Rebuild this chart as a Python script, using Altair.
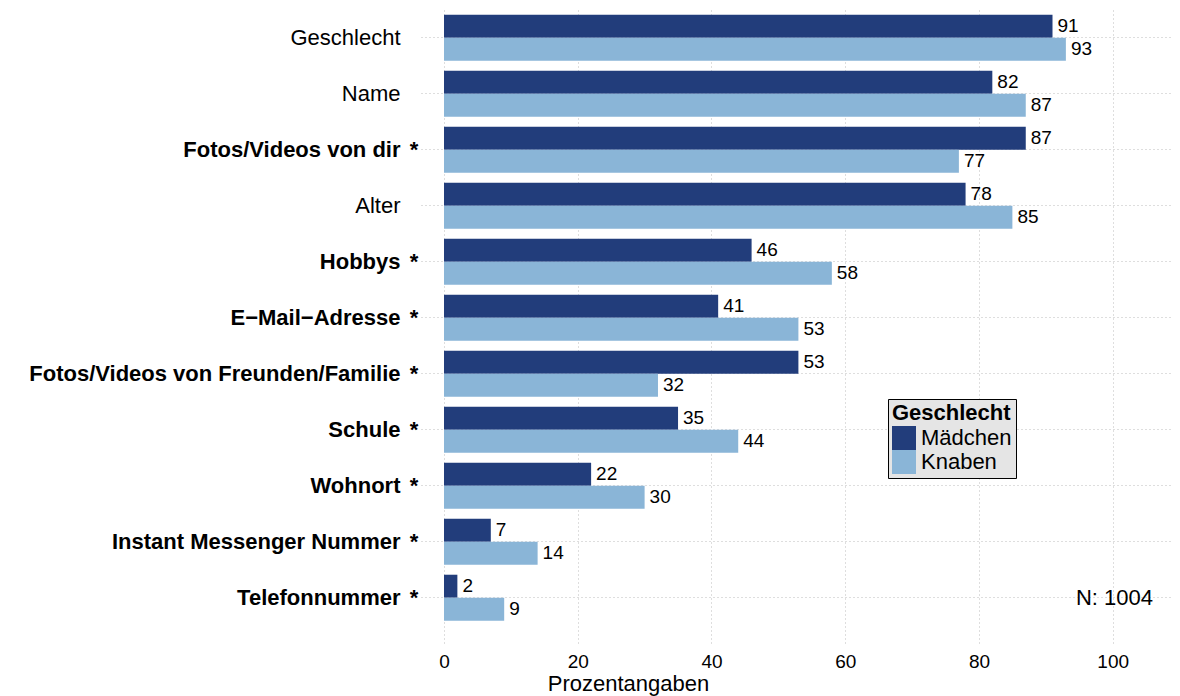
import altair as alt
import pandas as pd

categories = ["Geschlecht", "Name", "Fotos/Videos von dir", "Alter", "Hobbys",
              "E\u2212Mail\u2212Adresse", "Fotos/Videos von Freunden/Familie",
              "Schule", "Wohnort", "Instant Messenger Nummer", "Telefonnummer"]
maedchen = [91, 82, 87, 78, 46, 41, 53, 35, 22, 7, 2]
knaben = [93, 87, 77, 85, 58, 53, 32, 44, 30, 14, 9]
signif = [False, False, True, False, True, True, True, True, True, True, True]
groups = ["Mädchen", "Knaben"]
colors = ["#223D7B", "#8AB5D7"]
x_ticks = [0, 20, 40, 60, 80, 100]
n_text = "N: 1004"

rows = []
for c, m, k in zip(categories, maedchen, knaben):
    rows.append({"cat": c, "group": groups[0], "value": m})
    rows.append({"cat": c, "group": groups[1], "value": k})
df = pd.DataFrame(rows)
stars = pd.DataFrame({"cat": [c for c, s in zip(categories, signif) if s], "star": "*"})
ndf = pd.DataFrame({"cat": [categories[-1]], "label": [n_text]})

FONT = "Liberation Sans"
bold_list = ",".join("'" + c + "'" for c, s in zip(categories, signif) if s)

y_enc = alt.Y("cat:N", sort=categories, title=None,
              scale=alt.Scale(paddingInner=0.18, paddingOuter=0.26, align=0.232),
              axis=alt.Axis(grid=True, gridDash=[1, 3], gridColor="#BDBDBD", gridWidth=1,
                            bandPosition=0.5, domain=False, ticks=False,
                            labelFontSize=22, labelColor="black", labelPadding=21,
                            labelFont=FONT, labelLimit=500,
                            labelFontWeight={"condition": {"test": "indexof([" + bold_list + "], datum.value) >= 0",
                                                           "value": "bold"}, "value": "normal"}))
x_enc = alt.X("value:Q", title="Prozentangaben",
              scale=alt.Scale(domain=[-3.44, 108.87], nice=False, zero=False),
              axis=alt.Axis(values=x_ticks, grid=True, gridDash=[1, 3], gridColor="#BDBDBD",
                            gridWidth=1, domain=False, ticks=False, labelFontSize=19,
                            labelColor="black", labelPadding=9, labelFont=FONT,
                            titleFontSize=22, titleFontWeight="normal", titleColor="black",
                            titleFont=FONT, titleX=207, titleY=47, titleBaseline="alphabetic",
                            titleAlign="center"))
yoff_enc = alt.YOffset("group:N", sort=groups, scale=alt.Scale(paddingInner=0, paddingOuter=0))

bars = alt.Chart(df).mark_bar().encode(
    y=y_enc, x=x_enc, yOffset=yoff_enc,
    color=alt.Color("group:N", sort=groups,
                    scale=alt.Scale(domain=groups, range=colors),
                    legend=alt.Legend(orient="none", legendX=467, legendY=391,
                                      title="Geschlecht", titleFontSize=22, titleFontWeight="bold",
                                      titleColor="black", titleFont=FONT,
                                      labelFontSize=22, labelColor="black", labelFont=FONT,
                                      symbolType="square", symbolSize=576, symbolStrokeWidth=0,
                                      symbolOpacity=1, fillColor="#E5E5E5", strokeColor="black",
                                      padding=4, titlePadding=1, rowPadding=0, labelOffset=5)))

vals = alt.Chart(df).mark_text(align="left", baseline="middle", dx=5, fontSize=19,
                               font=FONT, color="black").encode(
    y=y_enc, x=x_enc, yOffset=yoff_enc, text=alt.Text("value:Q"))

star_layer = alt.Chart(stars).mark_text(align="center", baseline="middle", fontSize=22,
                                        fontWeight="bold", font=FONT, color="black").encode(
    y=y_enc, x=alt.value(-7), text="star:N")

n_layer = alt.Chart(ndf).mark_text(align="right", baseline="middle", fontSize=22,
                                   font=FONT, color="black").encode(
    y=y_enc, x=alt.value(732), text="label:N")

chart = alt.layer(bars, vals, star_layer, n_layer).properties(
    width=751, height=635,
    autosize=alt.AutoSizeParams(type="none"),
    padding={"left": 413, "top": 0, "right": 0, "bottom": 53},
).configure(font=FONT).configure_view(strokeWidth=0, stroke="transparent")

chart.save("out.html", embed_options={"renderer": "svg", "actions": False})
